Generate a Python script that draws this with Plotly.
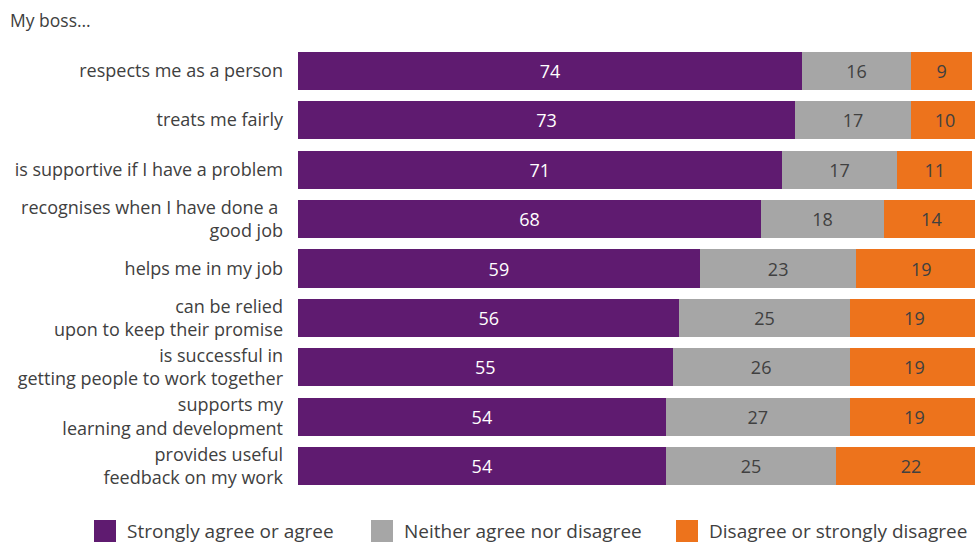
import plotly.graph_objects as go

# Survey statements (top to bottom) and response shares in percent
statements = [
    "respects me as a person",
    "treats me fairly",
    "is supportive if I have a problem",
    "recognises when I have done a\u00a0<br>good job",
    "helps me in my job",
    "can be relied<br>upon to keep their promise",
    "is successful in<br>getting people to work together",
    "supports my<br>learning and development",
    "provides useful<br>feedback on my work",
]
agree = [74, 73, 71, 68, 59, 56, 55, 54, 54]
neither = [16, 17, 17, 18, 23, 25, 26, 27, 25]
disagree = [9, 10, 11, 14, 19, 19, 19, 19, 22]

series_names = [
    "Strongly agree or agree",
    "Neither agree nor disagree",
    "Disagree or strongly disagree",
]
series_values = [agree, neither, disagree]
colors = ["#5f1b70", "#a6a6a6", "#ed731c"]
text_colors = ["#ffffff", "#404040", "#404040"]

FONT = "Open Sans, Noto Sans, sans-serif"
W, H = 975, 543
M_L, M_R, M_T, M_B = 298, 0, 46, 52

fig = go.Figure()
for name, vals, col, tcol in zip(series_names, series_values, colors, text_colors):
    fig.add_trace(go.Bar(
        y=statements,
        x=vals,
        name=name,
        orientation="h",
        marker=dict(color=col, line=dict(width=0)),
        text=[str(v) for v in vals],
        textposition="inside",
        insidetextanchor="middle",
        textangle=0,
        textfont=dict(family=FONT, size=18, color=tcol),
        showlegend=False,
        hoverinfo="skip",
    ))

# Custom legend: large colour squares with labels below the plot
plot_w = W - M_L - M_R
plot_h = H - M_T - M_B


def px_x(px):
    return (px - M_L) / plot_w


def px_y(py):
    return (H - M_B - py) / plot_h


legend_x = [94, 371, 676]
shapes = []
annotations = []
for lx, name, col in zip(legend_x, series_names, colors):
    shapes.append(dict(
        type="rect", xref="paper", yref="paper",
        x0=px_x(lx), x1=px_x(lx + 22), y0=px_y(542), y1=px_y(520),
        fillcolor=col, line=dict(width=0),
    ))
    annotations.append(dict(
        xref="paper", yref="paper", x=px_x(lx + 31), y=px_y(531),
        xanchor="left", yanchor="middle", showarrow=False,
        text=name, font=dict(family=FONT, size=19, color="#404040"),
    ))

# Heading above the statements
annotations.append(dict(
    xref="paper", yref="paper", x=px_x(8), y=px_y(20),
    xanchor="left", yanchor="middle", showarrow=False,
    text="My boss\u2026", font=dict(family=FONT, size=17.5, color="#404040"),
))

fig.update_layout(
    width=W, height=H,
    margin=dict(l=M_L, r=M_R, t=M_T, b=M_B, pad=0),
    barmode="stack",
    bargap=0.23,
    plot_bgcolor="white",
    paper_bgcolor="white",
    font=dict(family=FONT, size=18, color="#404040"),
    xaxis=dict(range=[0, 99.4], visible=False, fixedrange=True),
    yaxis=dict(
        autorange="reversed",
        showgrid=False, zeroline=False, showline=False,
        ticks="", ticklabelstandoff=14,
        tickfont=dict(family=FONT, size=18, color="#404040"),
        fixedrange=True,
    ),
    shapes=shapes,
    annotations=annotations,
)

fig.write_html("out.html", config={"displayModeBar": False})
